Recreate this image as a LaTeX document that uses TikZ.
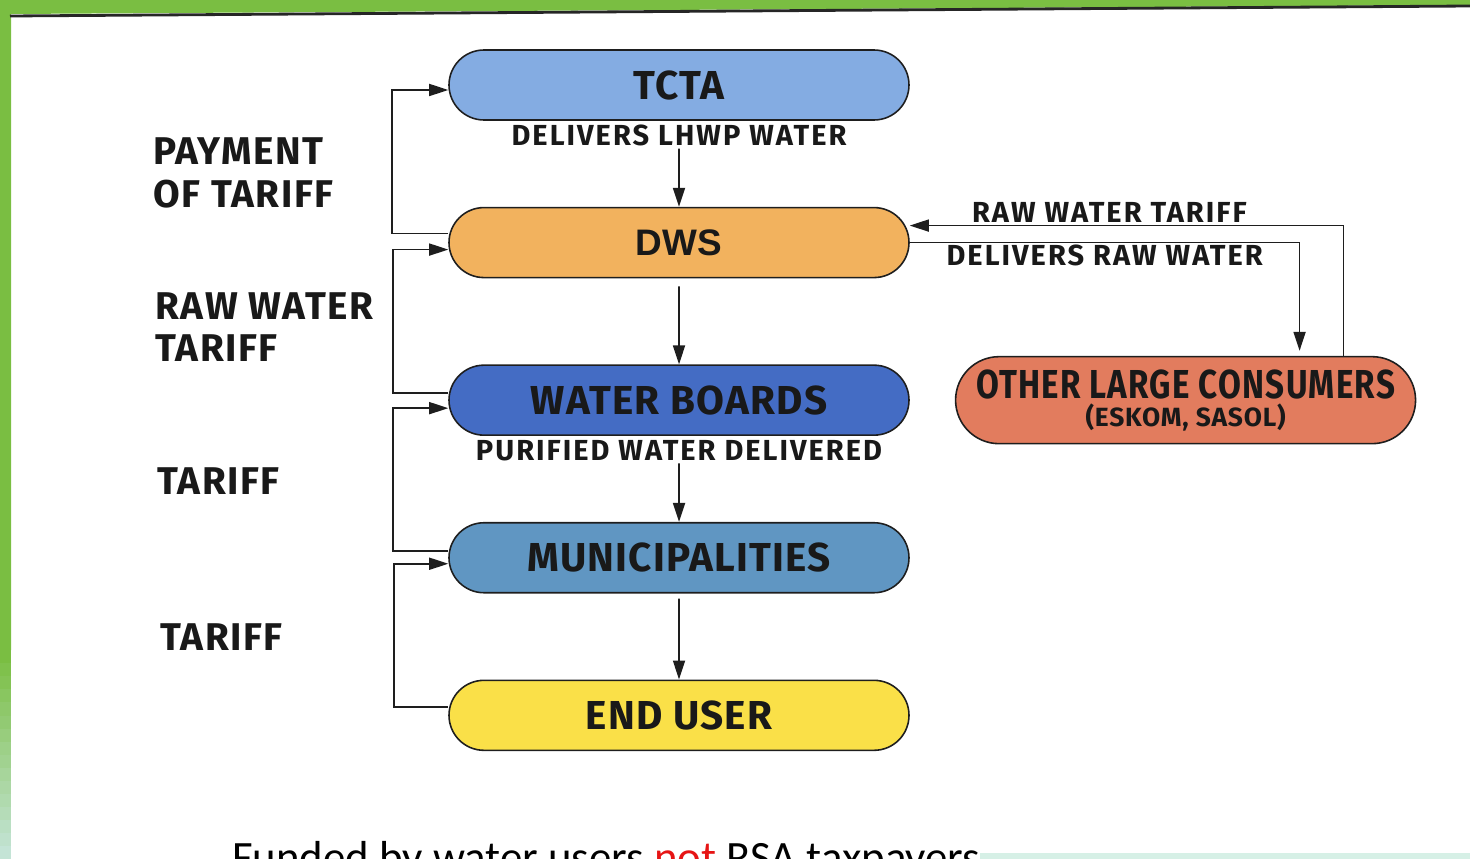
\documentclass[tikz,border=0pt]{standalone}
\usepackage{fontspec}
\usepackage{tikz}
\usetikzlibrary{arrows.meta,positioning,shapes.misc,calc}
\newfontfamily\boxfont[LetterSpace=3]{Fira Sans}
\newfontfamily\narrowfont[LetterSpace=3,FakeStretch=0.82]{Fira Sans}
\newfontfamily\tagfont[LetterSpace=7]{Fira Sans}
\newfontfamily\sidefont[LetterSpace=4]{Fira Sans}
\newfontfamily\dwsfont{Liberation Sans}
\newfontfamily\footfont{Carlito}
\definecolor{azulc}{RGB}{132,172,226}
\definecolor{naranja}{RGB}{242,178,94}
\definecolor{azulo}{RGB}{68,108,196}
\definecolor{azulm}{RGB}{96,150,194}
\definecolor{amarillo}{RGB}{250,224,72}
\definecolor{salmon}{RGB}{226,124,94}
\definecolor{verdeb}{RGB}{122,190,66}
\definecolor{verdecl}{RGB}{196,228,214}
\definecolor{cianb}{RGB}{214,240,230}
\definecolor{tinta}{RGB}{25,25,25}
\definecolor{linea}{RGB}{30,30,30}
\definecolor{rojo}{RGB}{230,20,20}
\tikzset{
  pill/.style={rounded rectangle, draw=linea, line width=0.9pt, minimum width=92mm, minimum height=14mm, inner sep=0pt, text=tinta, font=\boxfont\bfseries\fontsize{23}{26}\selectfont},
  fl/.style={-{Triangle[length=3.8mm,width=2.4mm]}, line width=1pt, linea},
  et/.style={font=\tagfont\bfseries\fontsize{16.5}{18}\selectfont, text=tinta, inner sep=1pt},
  lado/.style={font=\sidefont\bfseries\fontsize{22}{24}\selectfont, text=tinta, align=left, anchor=west, inner sep=0pt},
}

\begin{document}
\begin{tikzpicture}[node distance=17.2mm and 9mm]
  \useasboundingbox (0,0) rectangle (29.4,-17.18);
  \clip (0,0) rectangle (29.4,-17.18);
  % frame
  \fill[verdeb] (0,0) -- (29.4,0) -- (29.4,-0.1) -- (0.22,-0.28) -- (0.22,-13) -- (0,-13) -- cycle;
  \foreach \i in {0,...,15}
    \fill[verdecl!\the\numexpr\i*100/15\relax!verdeb] (0,{-13-\i*0.262}) rectangle (0.22,{-13.27-\i*0.262});
  \draw[line width=1.6pt, black!85] (0.2,-0.32) -- (29.4,-0.12);
  \fill[cianb] (19.6,-17.05) rectangle (29.4,-17.18);

  \node[pill, fill=azulc] (tcta) at (13.58,-1.70) {TCTA};
  \node[pill, fill=naranja, below=of tcta, font=\dwsfont\bfseries\fontsize{21}{24}\selectfont] (dws) {DWS};
  \node[pill, fill=azulo, below=of dws] (wb) {WATER BOARDS};
  \node[pill, fill=azulm, below=of wb] (mun) {MUNICIPALITIES};
  \node[pill, fill=amarillo, below=of mun] (usuario) {END USER};
  \node[pill, fill=salmon, right=of wb, minimum height=17.4mm, align=center, font=\narrowfont\bfseries\fontsize{23}{18}\selectfont] (otros)
    {OTHER LARGE CONSUMERS\\[-2pt] {\boxfont\bfseries\fontsize{15}{18}\selectfont (ESKOM, SASOL)}};

  \node[et, below=0.5mm of tcta] (lhwp) {DELIVERS LHWP WATER};
  \node[et, below=0.5mm of wb] (puri) {PURIFIED WATER DELIVERED};

  \draw[fl] (lhwp) -- (dws);
  \draw[fl] ([yshift=-1.6mm]dws.south) -- (wb);
  \draw[fl] (puri) -- (mun);
  \draw[fl] ([yshift=-1mm]mun.south) -- (usuario);

  % tariffs going up
  \draw[fl] ([yshift=1.8mm]dws.west) -- ++(-11.2mm,0) |- ([yshift=-1mm]tcta.west);
  \draw[fl] ([yshift=1.4mm]wb.west) -- ++(-11mm,0) |- ([yshift=-1.4mm]dws.west);
  \draw[fl] ([yshift=1.4mm]mun.west) -- ++(-11mm,0) |- ([yshift=-1.6mm]wb.west);
  \draw[fl] ([yshift=1.6mm]usuario.west) -- ++(-10.8mm,0) |- ([yshift=-1.2mm]mun.west);

  \draw[fl] (dws.east) -| node[et, below, pos=0.25] (rawdel) {DELIVERS RAW WATER} ([xshift=22.8mm, yshift=1mm]otros.north);
  \draw[fl] ([xshift=31.6mm]otros.north) |- node[et, above, pos=0.77] (rawtar) {RAW WATER TARIFF} ([yshift=3.4mm]dws.east);

  \node[lado] (pago) at (3.06,-3.46) {PAYMENT\\OF TARIFF};
  \node[lado] (rawt) at (3.10,-6.54) {RAW WATER\\TARIFF};
  \node[lado] (tar1) at (3.14,-9.62) {TARIFF};
  \node[lado] (tar2) at (3.20,-12.74) {TARIFF};

  \node[anchor=base west, inner sep=0pt, font=\footfont\fontsize{25.5}{28}\selectfont] (pie) at (4.64,-17.44)
    {Funded by water users \textcolor{rojo}{not} RSA taxpayers};
\end{tikzpicture}
\end{document}
